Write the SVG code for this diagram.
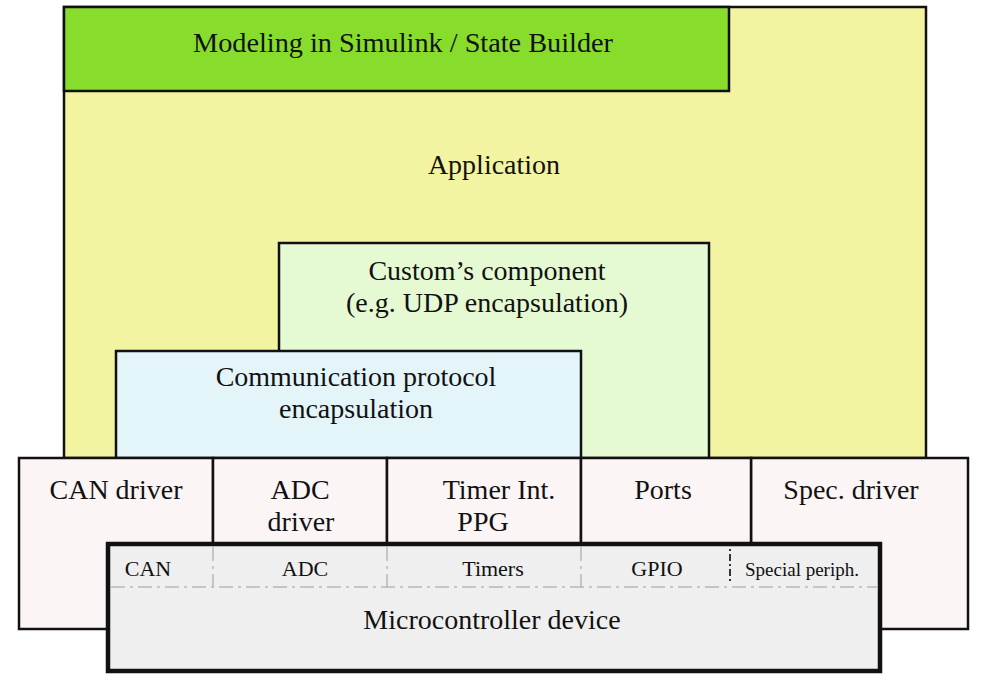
<svg xmlns="http://www.w3.org/2000/svg" width="983" height="685" viewBox="0 0 983 685">
<style>
text{font-family:'Liberation Serif','DejaVu Serif',serif;fill:#111;text-anchor:middle}
.big{font-size:28px}
.sm{font-size:22px}
.xs{font-size:19px}
.box{stroke:#111;stroke-width:2.5}
.drv{fill:#fcf5f6;stroke:#111;stroke-width:2.5}
.sep{stroke:#b8b8b8;stroke-width:1.5;stroke-dasharray:14 5 3 5;fill:none}
</style>
<rect width="983" height="685" fill="#ffffff"/>
<g id="application">
<rect class="box" x="64" y="7" width="862" height="451" fill="#f2f4a2"/>
<text class="big" x="494" y="174">Application</text>
</g>
<g id="modeling">
<rect class="box" x="64" y="7" width="665" height="84" fill="#88dc2c"/>
<text class="big" x="403" y="52" textLength="420" lengthAdjust="spacingAndGlyphs">Modeling in Simulink / State Builder</text>
</g>
<g id="custom">
<rect class="box" x="279" y="243" width="430" height="215" fill="#e5f9d3"/>
<text class="big" x="487" y="280">Custom’s component</text>
<text class="big" x="487" y="312">(e.g. UDP encapsulation)</text>
</g>
<g id="comm">
<rect class="box" x="116" y="351" width="465" height="107" fill="#e3f5f9"/>
<text class="big" x="356" y="386">Communication protocol</text>
<text class="big" x="356" y="418">encapsulation</text>
</g>
<g id="can-driver">
<rect class="drv" x="19" y="458" width="194" height="171"/>
<text class="big" x="116" y="499">CAN driver</text>
</g>
<g id="spec-driver">
<rect class="drv" x="751" y="458" width="217" height="171"/>
<text class="big" x="851" y="499">Spec. driver</text>
</g>
<g id="adc-driver">
<rect class="drv" x="213" y="458" width="174" height="86"/>
<text class="big" x="300" y="499">ADC</text>
<text class="big" x="301" y="531">driver</text>
</g>
<g id="timer-driver">
<rect class="drv" x="387" y="458" width="194" height="86"/>
<text class="big" x="499" y="499">Timer Int.</text>
<text class="big" x="483" y="531">PPG</text>
</g>
<g id="ports">
<rect class="drv" x="581" y="458" width="170" height="86"/>
<text class="big" x="663" y="499">Ports</text>
</g>
<g id="microcontroller">
<rect x="108" y="544" width="772" height="127" fill="#efefef" stroke="#111" stroke-width="4.5"/>
<text class="sm" x="148" y="576">CAN</text>
<text class="sm" x="305" y="576">ADC</text>
<text class="sm" x="493" y="576">Timers</text>
<text class="sm" x="657" y="576">GPIO</text>
<text class="xs" x="802" y="576">Special periph.</text>
<text class="big" x="492" y="629">Microcontroller device</text>
</g>
<g id="connectors">
<line class="sep" x1="111" y1="587" x2="877" y2="587"/>
<line class="sep" x1="213" y1="547" x2="213" y2="587"/>
<line class="sep" x1="387" y1="547" x2="387" y2="587"/>
<line class="sep" x1="581" y1="547" x2="581" y2="587"/>
<line x1="730" y1="549" x2="730" y2="584" stroke="#222" stroke-width="1.8" stroke-dasharray="2 3 7 3"/>
</g>
</svg>
